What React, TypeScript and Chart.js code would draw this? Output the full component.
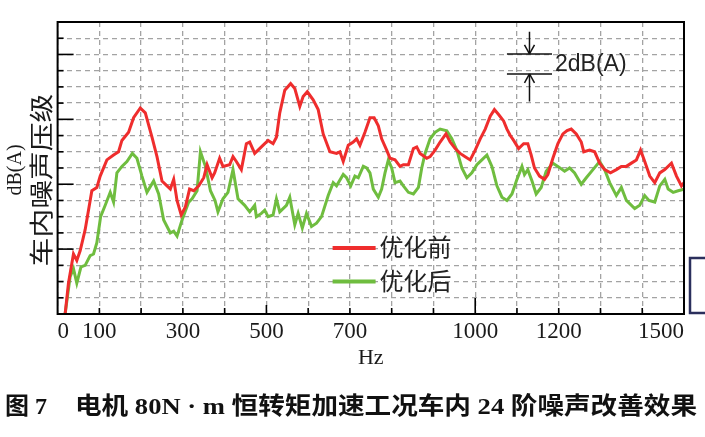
import React, { useEffect, useRef } from "react";
import { Chart, registerables } from "chart.js";
import type { Plugin } from "chart.js";

Chart.register(...registerables);

// 优化前 (before optimisation) - frequency (Hz) and level (grid units)
const redFreq = [
  18, 26, 38, 46, 54, 66, 82, 94, 102, 118, 134, 146, 154, 170, 182, 198, 210, 226, 238, 250,
  262, 270, 278, 286, 296, 306, 316, 326, 338, 350, 358, 370, 376, 388, 396, 412, 420, 428, 440, 452,
  460, 472, 488, 504, 516, 524, 532, 544, 558, 568, 580, 588, 598, 612, 624, 636, 652, 668, 676, 684,
  696, 708, 716, 724, 736, 748, 758, 768, 776, 788, 796, 808, 820, 828, 840, 852, 860, 868, 884, 892,
  904, 916, 930, 940, 952, 964, 976, 988, 1000, 1012, 1024, 1036, 1046, 1056, 1068, 1076, 1084, 1092, 1104, 1116,
  1126, 1134, 1142, 1154, 1166, 1174, 1186, 1198, 1210, 1220, 1230, 1242, 1254, 1260, 1274, 1286, 1298, 1310, 1324, 1338,
  1350, 1362, 1374, 1386, 1396, 1406, 1418, 1430, 1442, 1454, 1470, 1482, 1494, 1500,
];
const redLevel = [
  0, 1.9, 3.7, 3.3, 3.9, 5.2, 7.6, 7.8, 8.5, 9.5, 9.8, 10.0, 10.7, 11.2, 12.1, 12.7, 12.4, 10.9, 9.7, 8.2,
  7.9, 7.7, 8.3, 7.0, 6.1, 6.6, 7.7, 7.6, 7.9, 8.4, 9.2, 8.4, 8.7, 9.6, 9.1, 9.2, 9.7, 9.4, 8.9, 10.5,
  10.6, 9.9, 10.3, 10.7, 10.5, 10.9, 12.4, 13.8, 14.2, 13.9, 12.8, 13.4, 13.7, 13.2, 12.6, 11.1, 10.0, 9.9, 10.0, 9.4,
  10.4, 10.6, 10.8, 10.4, 11.2, 12.1, 12.1, 11.6, 10.8, 10.1, 9.6, 9.5, 9.1, 9.2, 9.2, 10.2, 10.3, 9.9, 9.6, 9.7,
  10.1, 10.6, 11.1, 10.6, 10.2, 9.9, 9.7, 9.5, 10.1, 10.8, 11.4, 12.2, 12.6, 12.3, 11.9, 11.4, 11.0, 10.7, 10.2, 10.5,
  10.5, 9.8, 9.0, 8.5, 8.3, 8.6, 9.6, 10.5, 11.1, 11.3, 11.4, 11.1, 10.6, 10.0, 10.1, 10.0, 9.3, 8.9, 8.7, 8.9,
  9.1, 9.1, 9.3, 9.5, 10.1, 9.4, 8.5, 8.1, 8.7, 8.9, 9.3, 8.5, 7.9, 8.1,
];

// 优化后 (after optimisation)
const greenFreq = [
  18, 30, 38, 46, 56, 66, 78, 86, 94, 103, 114, 126, 134, 142, 154, 166, 179, 190, 202, 214,
  230, 242, 254, 270, 278, 286, 298, 314, 322, 334, 342, 354, 366, 377, 384, 396, 408, 420, 432, 448,
  460, 472, 476, 488, 496, 504, 516, 524, 532, 548, 556, 568, 576, 586, 596, 608, 620, 632, 648, 660,
  668, 684, 692, 702, 712, 720, 732, 740, 748, 756, 768, 776, 784, 792, 800, 808, 820, 828, 840, 852,
  864, 872, 880, 892, 904, 916, 932, 944, 956, 968, 980, 992, 1004, 1016, 1028, 1040, 1052, 1064, 1076, 1088,
  1100, 1112, 1118, 1126, 1136, 1146, 1158, 1170, 1186, 1198, 1214, 1226, 1238, 1254, 1266, 1282, 1298, 1310, 1322, 1338,
  1350, 1362, 1382, 1394, 1406, 1416, 1430, 1442, 1454, 1462, 1474, 1486, 1500,
];
const greenLevel = [
  0, 2.3, 2.8, 1.9, 2.9, 3.0, 3.6, 3.7, 4.4, 6.0, 6.7, 7.5, 6.9, 8.7, 9.1, 9.4, 9.9, 9.6, 8.5, 7.5,
  8.2, 7.4, 5.8, 5.0, 5.1, 4.8, 5.8, 6.9, 7.1, 7.6, 10.0, 9.1, 7.6, 7.0, 6.3, 7.1, 7.5, 8.9, 7.1, 6.7,
  6.3, 6.7, 6.0, 6.2, 6.4, 6.0, 6.1, 7.1, 6.3, 6.7, 7.2, 5.5, 6.2, 5.3, 6.2, 5.4, 5.6, 6.0, 7.3, 8.1,
  7.9, 8.6, 8.4, 7.9, 8.5, 8.4, 9.1, 9.0, 8.7, 7.7, 7.2, 7.7, 8.7, 9.5, 9.0, 8.1, 8.2, 7.9, 7.5, 7.4,
  7.8, 9.0, 9.9, 10.8, 11.2, 11.4, 11.3, 10.8, 10.1, 9.0, 8.4, 8.7, 9.2, 9.5, 9.8, 9.1, 7.9, 7.2, 7.0, 7.4,
  8.3, 9.1, 8.6, 8.9, 8.2, 7.4, 7.8, 8.8, 9.3, 9.1, 8.8, 9.0, 8.7, 8.0, 8.4, 8.9, 9.4, 8.9, 8.1, 7.3,
  7.8, 7.0, 6.5, 6.7, 7.3, 7.0, 6.9, 7.9, 8.3, 7.7, 7.5, 7.6, 7.7,
];

const seriesNames = ["优化前", "优化后"];
const seriesColors = ["#ef2d2d", "#6fbd3f"];
const xTickLabels = [0, 100, 300, 500, 700, 1000, 1200, 1500];
const xTitle = "Hz";
const yTitleLatin = "dB(A)";
const yTitleCjk = "车内噪声压级";
const noteText = "2dB(A)";
const captionHead = "图 7";
const captionBody = "电机 80N · m 恒转矩加速工况车内 24 阶噪声改善效果";

const W = 705;
const H = 437;

const decorPlugin: Plugin<"line"> = {
  id: "decor",
  afterDraw(chart) {
    const { ctx, chartArea: a, scales } = chart;
    const xs = scales.x;
    const ys = scales.y;
    const seg = (x1: number, y1: number, x2: number, y2: number) => {
      ctx.beginPath();
      ctx.moveTo(x1, y1);
      ctx.lineTo(x2, y2);
      ctx.stroke();
    };
    ctx.save();

    // frame
    ctx.strokeStyle = "#000";
    ctx.lineWidth = 2;
    ctx.strokeRect(a.left, a.top, a.right - a.left, a.bottom - a.top);

    // inward ticks
    ctx.lineWidth = 1.6;
    for (let v = 1; v < 18; v++) {
      const py = ys.getPixelForValue(v);
      seg(a.left, py, a.left + (v % 4 === 0 ? 16 : 6), py);
    }
    for (let f = 100; f < 1500; f += 100) {
      const px = xs.getPixelForValue(f);
      const len = f % 1000 === 0 ? 16 : f % 500 === 0 ? 9 : 6;
      seg(px, a.bottom, px, a.bottom - len);
    }

    // x tick labels
    ctx.fillStyle = "#1a1a1a";
    ctx.font = "23px 'Liberation Serif', serif";
    ctx.textBaseline = "middle";
    xTickLabels.forEach((v, i) => {
      const px = xs.getPixelForValue(v);
      ctx.textAlign = i === 0 ? "left" : i === xTickLabels.length - 1 ? "right" : "center";
      ctx.fillText(String(v), px, a.bottom + 18);
    });
    ctx.textAlign = "center";
    ctx.font = "22px 'Liberation Serif', serif";
    ctx.fillText(xTitle, (a.left + a.right) / 2, a.bottom + 44);

    // y title (rotated)
    ctx.save();
    ctx.translate(16, 170);
    ctx.rotate(-Math.PI / 2);
    ctx.font = "20px 'Liberation Serif', serif";
    ctx.fillText(yTitleLatin, 0, 0);
    ctx.restore();
    ctx.save();
    ctx.translate(40, 180);
    ctx.rotate(-Math.PI / 2);
    ctx.scale(1.2, 1);
    ctx.font = "24px 'Noto Sans CJK SC', sans-serif";
    ctx.fillText(yTitleCjk, 0, 1);
    ctx.restore();

    // legend
    chart.data.datasets.forEach((ds, i) => {
      const ly = a.top + 226 + i * 33.5;
      ctx.strokeStyle = ds.borderColor as string;
      ctx.lineWidth = 4;
      seg(a.left + 275, ly, a.left + 318, ly);
      ctx.fillStyle = "#222";
      ctx.textAlign = "left";
      ctx.font = "24px 'Noto Sans CJK SC', sans-serif";
      ctx.fillText(ds.label as string, a.left + 322, ly - 1);
    });

    // 2dB(A) scale note
    ctx.strokeStyle = "#111";
    ctx.fillStyle = "#111";
    ctx.lineWidth = 1.5;
    const nx1 = xs.getPixelForValue(1076);
    const nx2 = xs.getPixelForValue(1184);
    const nxa = xs.getPixelForValue(1130);
    const yHi = ys.getPixelForValue(16.03);
    const yLo = ys.getPixelForValue(14.8);
    seg(nx1, yHi, nx2, yHi);
    seg(nx1, yLo, nx2, yLo);
    seg(nxa, ys.getPixelForValue(17.4), nxa, yHi);
    seg(nxa, yLo, nxa, ys.getPixelForValue(13.1));
    seg(nxa - 5, yHi - 9, nxa, yHi);
    seg(nxa + 5, yHi - 9, nxa, yHi);
    seg(nxa - 5, yLo + 9, nxa, yLo);
    seg(nxa + 5, yLo + 9, nxa, yLo);
    ctx.font = "23px 'Liberation Sans', sans-serif";
    ctx.textAlign = "left";
    ctx.fillStyle = "#222";
    ctx.fillText(noteText, nx2 + 3, (yHi + yLo) / 2 + 1);

    // cropped bracket at the right edge
    ctx.strokeStyle = "#2b2f5c";
    ctx.lineWidth = 2.5;
    ctx.beginPath();
    ctx.moveTo(W, 258);
    ctx.lineTo(690, 258);
    ctx.lineTo(690, 313);
    ctx.lineTo(W, 313);
    ctx.stroke();

    // caption
    ctx.fillStyle = "#111";
    ctx.textAlign = "left";
    ctx.font = "bold 24px 'Liberation Serif', 'Noto Sans CJK SC', serif";
    ctx.fillText(captionHead, 5, 408);
    const bw = ctx.measureText(captionBody).width;
    ctx.save();
    ctx.translate(75, 408);
    ctx.scale(622 / bw, 1);
    ctx.fillText(captionBody, 0, 0);
    ctx.restore();

    ctx.restore();
  },
};

export default function App() {
  const canvasRef = useRef<HTMLCanvasElement | null>(null);

  useEffect(() => {
    const canvas = canvasRef.current;
    if (!canvas) return;

    const toPoints = (xs: number[], ys: number[]) => xs.map((x, i) => ({ x, y: ys[i] }));

    const chart = new Chart(canvas, {
      type: "line",
      data: {
        datasets: [
          {
            label: seriesNames[0],
            data: toPoints(redFreq, redLevel),
            borderColor: seriesColors[0],
            borderWidth: 3,
            pointRadius: 0,
            tension: 0,
          },
          {
            label: seriesNames[1],
            data: toPoints(greenFreq, greenLevel),
            borderColor: seriesColors[1],
            borderWidth: 3,
            pointRadius: 0,
            tension: 0,
          },
        ],
      },
      options: {
        animation: false,
        responsive: false,
        devicePixelRatio: 1,
        layout: { padding: { left: 0, top: 22, right: 21, bottom: 0 } },
        plugins: { legend: { display: false }, tooltip: { enabled: false } },
        scales: {
          x: {
            type: "linear",
            min: 0,
            max: 1500,
            ticks: { stepSize: 100, display: false },
            grid: { color: "#a3a3a3", lineWidth: 1.3, drawTicks: false },
            border: { display: false, dash: [5, 4] },
            afterFit: (s: any) => {
              s.height = H - 314;
            },
          },
          y: {
            min: 0,
            max: 18,
            ticks: { stepSize: 1, display: false },
            grid: { color: "#a3a3a3", lineWidth: 1.3, drawTicks: false },
            border: { display: false, dash: [5, 4] },
            afterFit: (s: any) => {
              s.width = 57.6;
            },
          },
        },
      },
      plugins: [decorPlugin],
    });

    return () => chart.destroy();
  }, []);

  return (
    <div style={{ position: "fixed", left: 0, top: 0, width: W, height: H, background: "#fff" }}>
      <canvas ref={canvasRef} width={W} height={H} style={{ width: W, height: H, display: "block" }} />
    </div>
  );
}
